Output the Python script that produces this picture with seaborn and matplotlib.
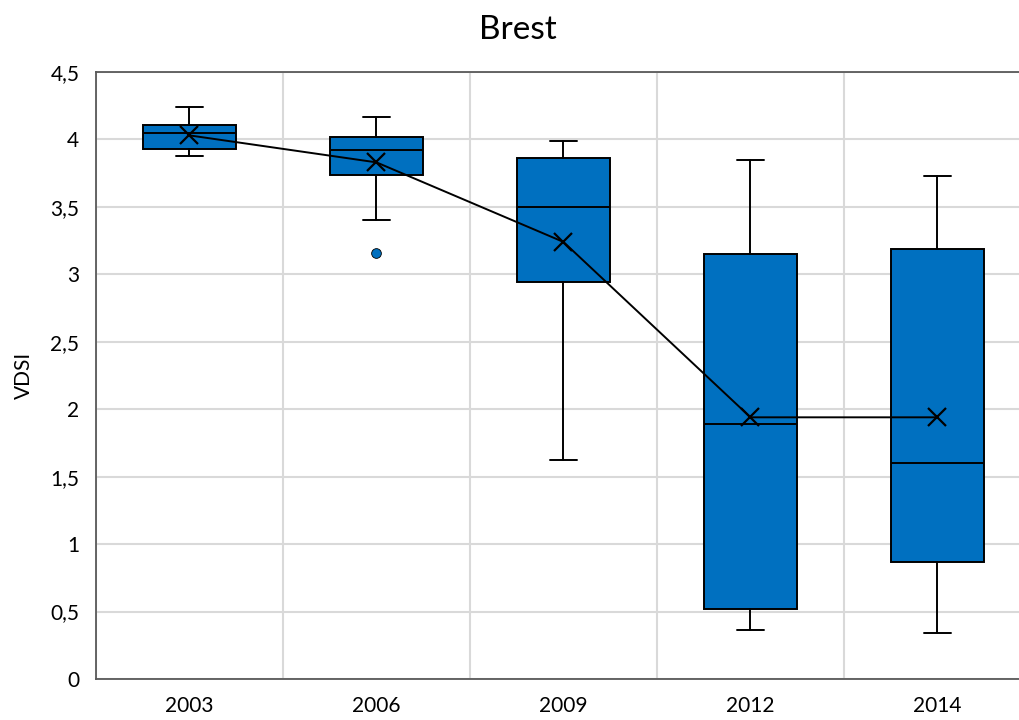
import matplotlib
matplotlib.use("Agg")
import matplotlib.pyplot as plt
from matplotlib.ticker import FuncFormatter, MultipleLocator, FixedLocator
import seaborn as sns
import pandas as pd

# ---- data ----
years = ["2003", "2006", "2009", "2012", "2014"]
whislo = [3.875, 3.40, 1.625, 0.36, 0.34]
q1 = [3.93, 3.74, 2.94, 0.52, 0.87]
median = [4.05, 3.92, 3.50, 1.89, 1.60]
q3 = [4.11, 4.02, 3.86, 3.15, 3.19]
whishi = [4.24, 4.165, 3.99, 3.85, 3.73]
means = [4.03, 3.83, 3.24, 1.94, 1.94]
outliers = [[], [3.16], [], [], []]
title = "Brest"
ylabel = "VDSI"

sns.set_theme(style="white")
plt.rcParams["font.family"] = ["Lato", "DejaVu Sans"]

BLUE = "#0070C0"
GRID = "#d9d9d9"

fig = plt.figure(figsize=(10.2, 7.2), dpi=100)
ax = fig.add_axes([96 / 1020, 41 / 720, 935 / 1020, 607 / 720])

positions = list(range(len(years)))
stats = []
for i in positions:
    stats.append(dict(med=median[i], q1=q1[i], q3=q3[i], whislo=whislo[i],
                      whishi=whishi[i], fliers=outliers[i], mean=means[i]))

ax.bxp(stats, positions=positions, widths=0.5, capwidths=0.145,
       patch_artist=True, showmeans=False, showfliers=True,
       boxprops=dict(facecolor=BLUE, edgecolor="black", linewidth=1.4),
       medianprops=dict(color="black", linewidth=1.4),
       whiskerprops=dict(color="black", linewidth=1.4),
       capprops=dict(color="black", linewidth=1.4),
       flierprops=dict(marker="o", markerfacecolor=BLUE, markeredgecolor="black",
                       markeredgewidth=0.6, markersize=7),
       zorder=3)

mean_df = pd.DataFrame({"pos": positions, "mean": means})
sns.lineplot(data=mean_df, x="pos", y="mean", ax=ax, color="black", linewidth=1.4,
             marker="x", markersize=13, markeredgewidth=1.6, markeredgecolor="black",
             zorder=5)

ax.set_xlim(-0.5, len(years) - 0.5)
ax.set_ylim(0, 4.5)
ax.yaxis.set_major_locator(MultipleLocator(0.5))
ax.yaxis.set_major_formatter(FuncFormatter(lambda v, p: ("%g" % v).replace(".", ",")))
ax.set_xticks(positions)
ax.set_xticklabels(years)
ax.xaxis.set_minor_locator(FixedLocator([p + 0.5 for p in positions] + [-0.5]))

ax.grid(True, axis="y", which="major", color=GRID, linewidth=1.5, zorder=0)
ax.grid(True, axis="x", which="minor", color=GRID, linewidth=1.5, zorder=0)
ax.grid(False, axis="x", which="major")
ax.set_axisbelow(True)

ax.tick_params(axis="both", which="both", length=0, labelsize=15, colors="black")
ax.tick_params(axis="x", pad=12)
ax.tick_params(axis="y", pad=12)

for s in ["left", "bottom", "top"]:
    ax.spines[s].set_visible(True)
    ax.spines[s].set_color("#595959")
    ax.spines[s].set_linewidth(1.3)
ax.spines["right"].set_visible(False)

ax.set_xlabel("")
ax.set_ylabel(ylabel, fontsize=15, color="black", labelpad=12)
fig.text(518 / 1020, 1 - 30 / 720, title, ha="center", va="center", fontsize=24, color="black")

fig.savefig("out.png", dpi=100)
